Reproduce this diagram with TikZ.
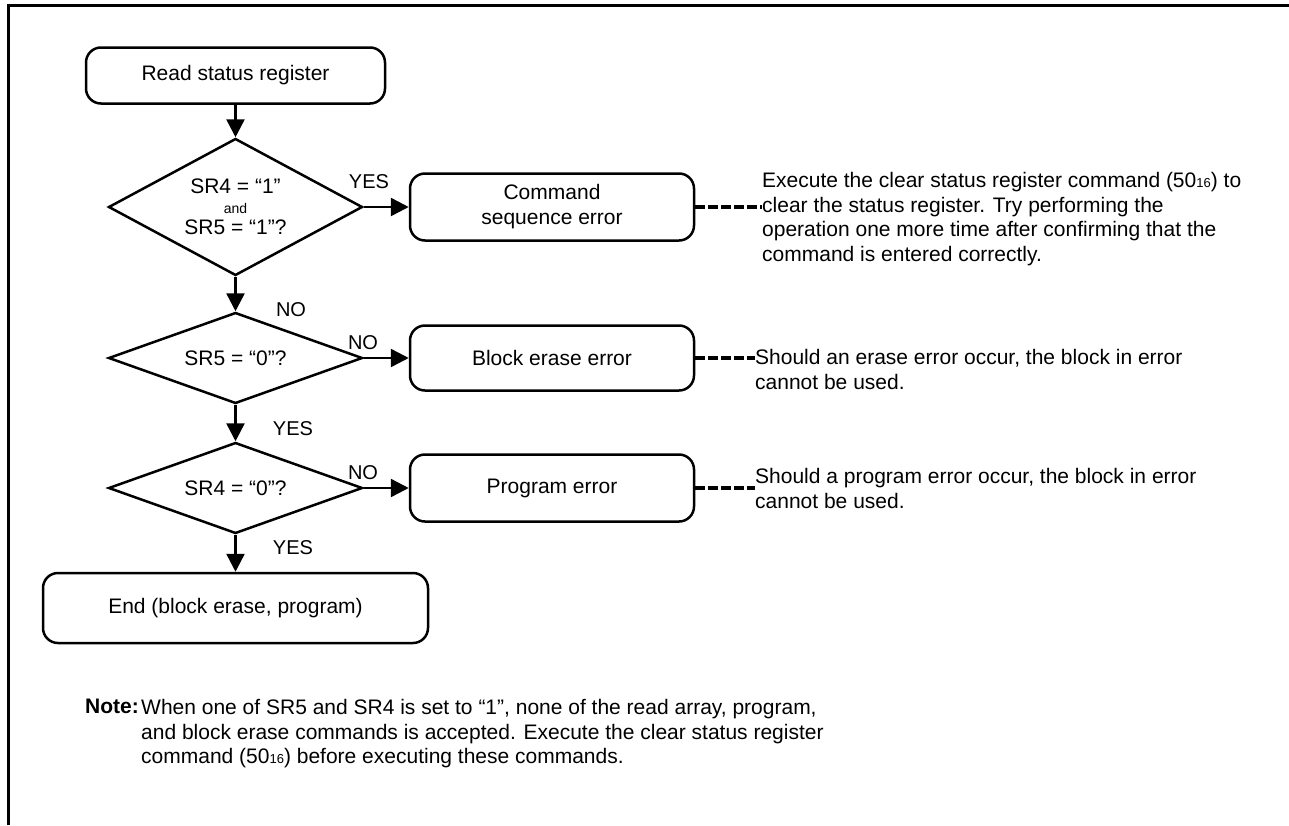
\documentclass[tikz,border=0pt]{standalone}
\usepackage{fontspec}
\setmainfont{Liberation Sans}
\usetikzlibrary{arrows.meta,positioning,shapes.geometric}
\newcommand{\hexsub}[1]{{\fontsize{13}{13}\selectfont #1}}

\begin{document}
\begin{tikzpicture}[
      x=1pt, y=-1pt,
      term/.style={draw, rounded corners=15pt, line width=2.5pt, minimum height=56pt, font=\fontsize{21}{25}\selectfont, align=center},
      errbox/.style={term, minimum width=284pt, minimum height=67pt},
      cond/.style={draw, diamond, aspect=2, line width=2.5pt, inner sep=0pt, minimum width=254pt, minimum height=91pt, font=\fontsize{21}{23}\selectfont, align=center},
      arr/.style={line width=2.5pt, -{Triangle[length=18pt,width=18pt]}},
      dashline/.style={line width=3.5pt, dash pattern=on 10pt off 3pt},
      tag/.style={font=\fontsize{20}{22}\selectfont},
      remark/.style={font=\fontsize{21}{24.6}\selectfont, align=left, anchor=north west, inner sep=0pt}
    ]
      \useasboundingbox (0,0) rectangle (1289,825);
      \draw[line width=3pt] (8,825) -- (8,5) -- (1289,5);

      \node[term, minimum width=299pt] (read) at (235.5,75.5) {Read status register};
      \node[cond, minimum height=137pt] (srboth) at (235.5,207) {SR4 = “1”\\[-3pt]{\fontsize{14}{14}\selectfont and}\\[-2pt]SR5 = “1”?};
      \node[errbox] (cse) at (552,207) {Command\\sequence error};
      \node[cond] (sr5) at (235.5,358) {SR5 = “0”?};
      \node[errbox, minimum height=65pt] (bee) at (552,358) {Block erase error};
      \node[cond] (sr4) at (235.5,488) {SR4 = “0”?};
      \node[errbox] (pge) at (552,488) {Program error};
      \node[term, minimum width=385pt, minimum height=70pt] (done) at (235.5,608) {End (block erase, program)};

      \draw[arr] (read) -- (srboth);
      \draw[arr] (srboth) -- (cse);
      \draw[arr] (srboth) -- (sr5);
      \draw[arr] (sr5) -- (bee);
      \draw[arr] (sr5) -- (sr4);
      \draw[arr] (sr4) -- (pge);
      \draw[arr] (sr4) -- (done);

      \node[tag] (yes1) at (369,182) {YES};
      \node[tag] (no1) at (291,310) {NO};
      \node[tag] (no2) at (363,343) {NO};
      \node[tag] (yes2) at (293,429) {YES};
      \node[tag] (no3) at (363,473) {NO};
      \node[tag] (yes3) at (293,548) {YES};

      \node[remark] (cseinfo) at (762,172) {Execute the clear status register command (50\hexsub{16}) to\\clear the status register. Try performing the\\operation one more time after confirming that the\\command is entered correctly.};
      \node[remark] (beeinfo) at (755,349) {Should an erase error occur, the block in error\\cannot be used.};
      \node[remark] (pgeinfo) at (755,468) {Should a program error occur, the block in error\\cannot be used.};
      \draw[dashline] (cse.east) -- (cse.east -| cseinfo.west);
      \draw[dashline] (bee.east) -- (bee.east -| beeinfo.west);
      \draw[dashline] (pge.east) -- (pge.east -| pgeinfo.west);

      \node[remark, anchor=north east, font=\fontsize{21}{24.6}\bfseries] (notelab) at (139,699) {Note:};
      \node[remark] (notetext) at (141,699) {When one of SR5 and SR4 is set to “1”, none of the read array, program,\\and block erase commands is accepted. Execute the clear status register\\command (50\hexsub{16}) before executing these commands.};
    \end{tikzpicture}
\end{document}
